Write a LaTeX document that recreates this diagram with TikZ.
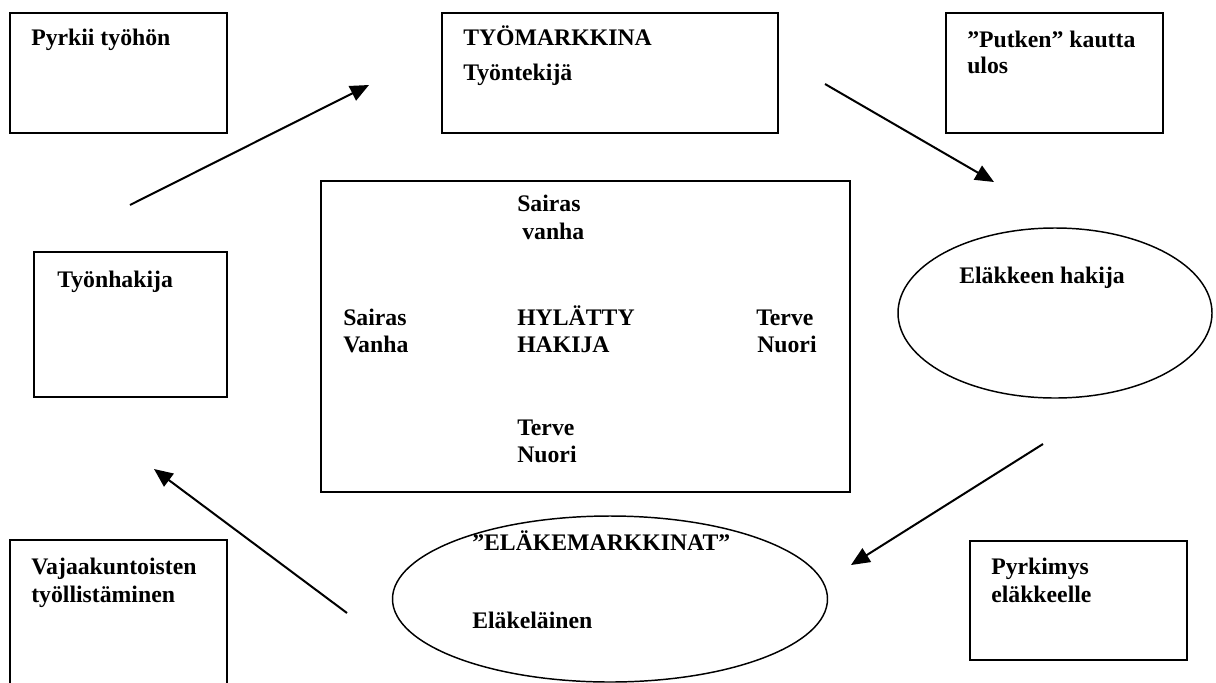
\documentclass[tikz,border=0pt]{standalone}
\usepackage{fontspec}
\setmainfont{Liberation Serif}
\usetikzlibrary{shapes.geometric,arrows.meta}
\begin{document}
\begin{tikzpicture}[x=0.75pt,y=-0.75pt,
  box/.style={draw,line width=1.5pt,rectangle,inner sep=0pt},
  oval/.style={draw,line width=1.1pt,ellipse,inner sep=0pt},
  lbl/.style={anchor=base west,inner sep=0pt,font=\fontsize{17.8}{20}\selectfont\bfseries},
  arr/.style={line width=1.5pt,-{Triangle[length=14pt,width=12pt]}}]
\useasboundingbox (0,0) rectangle (1216,682);
\clip (0,0) rectangle (1216,682);
\fill[white] (0,0) rectangle (1216,682);
% boxes
\node[box,minimum width=162.75pt,minimum height=90pt] (b1) at (118.5,73) {};
\node[box,minimum width=252pt,minimum height=90pt] (b2) at (610,73) {};
\node[box,minimum width=162.75pt,minimum height=90pt] (b3) at (1054.5,73) {};
\node[box,minimum width=144.75pt,minimum height=108.75pt] (b4) at (130.5,324.5) {};
\node[box,minimum width=396.75pt,minimum height=233.25pt] (mid) at (585.5,336.5) {};
\node[box,minimum width=162.75pt,minimum height=120pt] (b5) at (118.5,620) {};
\node[box,minimum width=162.75pt,minimum height=89.25pt] (b6) at (1078.5,600.5) {};
\node[oval,minimum width=235.5pt,minimum height=127.5pt] (e1) at (1055,313) {};
\node[oval,minimum width=326.25pt,minimum height=124.5pt] (e2) at (610,599) {};
% texts
\node[lbl] (t1) at (31,45) {Pyrkii työhön};
\node[lbl] (t2a) at (463,45) {TYÖMARKKINA};
\node[lbl] (t2b) at (463,80) {Työntekijä};
\node[lbl] (t3a) at (967,47) {”Putken” kautta};
\node[lbl] (t3b) at (967,73) {ulos};
\node[lbl] (t4) at (57,287) {Työnhakija};
\node[lbl] (m1a) at (517,211) {Sairas};
\node[lbl] (m1b) at (522,239) {vanha};
\node[lbl] (m2a) at (343,325) {Sairas};
\node[lbl] (m2b) at (343,352) {Vanha};
\node[lbl] (m3a) at (517,325) {HYLÄTTY};
\node[lbl] (m3b) at (517,352) {HAKIJA};
\node[lbl] (m4a) at (756,325) {Terve};
\node[lbl] (m4b) at (757,352) {Nuori};
\node[lbl] (m5a) at (517,435) {Terve};
\node[lbl] (m5b) at (517,462) {Nuori};
\node[lbl] (te1) at (959,283) {Eläkkeen hakija};
\node[lbl] (te2a) at (472,550) {”ELÄKEMARKKINAT”};
\node[lbl] (te2b) at (472,628) {Eläkeläinen};
\node[lbl] (t5a) at (31,574) {Vajaakuntoisten};
\node[lbl] (t5b) at (31,602) {työllistäminen};
\node[lbl] (t6a) at (991,574) {Pyrkimys};
\node[lbl] (t6b) at (991,602) {eläkkeelle};
% arrows
\coordinate (a1s) at (130,205); \coordinate (a1e) at (369,85);
\coordinate (a2s) at (825,84);  \coordinate (a2e) at (994,182);
\coordinate (a3s) at (1043,444); \coordinate (a3e) at (851,565);
\coordinate (a4s) at (347,613); \coordinate (a4e) at (154,469);
\draw[arr] (a1s) -- (a1e);
\draw[arr] (a2s) -- (a2e);
\draw[arr] (a3s) -- (a3e);
\draw[arr] (a4s) -- (a4e);
\end{tikzpicture}
\end{document}
